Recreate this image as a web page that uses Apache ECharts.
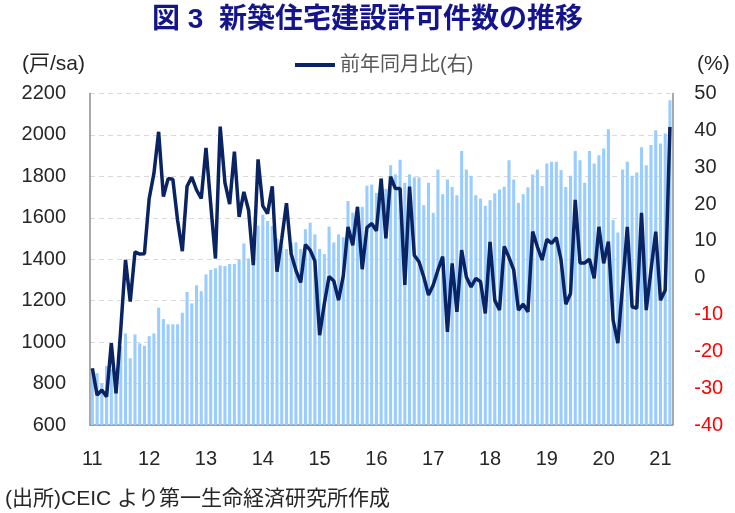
<!DOCTYPE html>
<html lang="ja">
<head>
  <meta charset="UTF-8">
  <script src="https://cdn.jsdelivr.net/npm/echarts@6/dist/echarts.min.js"></script>
  <title>新築住宅建設許可件数の推移</title>
  <style>
    html, body { margin: 0; padding: 0; background: #fff; }
  </style>
</head>
<body>
  <div id="main" style="width: 735px;height:513px;"></div>

  <script>
    // year tick labels (2011 - 2021), monthly data from Jan 2011 to Mar 2021
    var yearLabels = ['11', '12', '13', '14', '15', '16', '17', '18', '19', '20', '21'];
    var monthCount = 123;

    // building permits, units (s.a.), left axis
    var permits = [
      870, 850, 801, 885, 870, 800, 980, 1042, 922, 1037, 994, 982,
      1029, 1042, 1166, 1111, 1086, 1086, 1086, 1142, 1242, 1187, 1275, 1246,
      1327, 1348, 1356, 1370, 1367, 1377, 1377, 1400, 1476, 1404, 1490, 1562,
      1615, 1585, 1560, 1500, 1470, 1450, 1480, 1482, 1450, 1545, 1576, 1520,
      1450, 1425, 1557, 1481, 1520, 1506, 1681, 1625, 1655, 1653, 1755, 1760,
      1720, 1790, 1740, 1854, 1810, 1880, 1769, 1810, 1795, 1795, 1661, 1769,
      1624, 1833, 1714, 1785, 1749, 1709, 1923, 1833, 1803, 1709, 1693, 1658,
      1685, 1718, 1737, 1750, 1878, 1785, 1672, 1714, 1747, 1809, 1833, 1753,
      1862, 1870, 1870, 1830, 1749, 1803, 1923, 1878, 1769, 1923, 1862, 1902,
      1935, 2028, 1589, 1529, 1833, 1870, 1803, 1819, 1940, 1854, 1951, 2023,
      1959, 2007, 2168
    ];

    // year-on-year change, %, right axis
    var yoy = [
      -24.6, -31.9, -30.5, -32.3, -17.8, -31.4, -14.0, 4.8, -6.5, 7.0, 6.4, 6.5,
      21.5, 28.3, 39.6, 22.0, 26.9, 26.7, 15.6, 7.2, 24.8, 27.3, 23.8, 21.5,
      35.2, 19.9, 5.2, 41.0, 25.8, 20.0, 34.2, 16.5, 23.3, 18.3, 3.4, 32.1,
      19.5, 17.4, 24.8, 1.6, 10.5, 20.2, 6.4, 2.0, -1.3, 9.0, 7.5, 4.5,
      -15.6, -7.0, 0.3, -0.9, -6.1, 0.5, 13.8, 8.8, 19.2, 2.3, 13.6, 14.7,
      12.7, 26.9, 10.7, 27.4, 24.2, 24.2, -2.0, 24.7, 6.1, 4.3, 0.2, -4.7,
      -2.0, 2.1, 5.7, -14.7, 3.9, -9.3, 7.5, 0.2, -2.5, -0.2, -1.1, -9.7,
      9.7, -6.1, -8.8, 8.5, 5.5, 2.1, -8.8, -7.2, -9.3, 12.5, 8.4, 4.8,
      10.4, 9.3, 10.9, 4.8, -7.2, -4.3, 21.1, 4.0, 4.0, 5.0, -0.2, 13.8,
      3.9, 9.8, -11.5, -17.8, -2.0, 13.8, -7.9, -8.3, 17.6, -8.8, 2.1, 12.5,
      -6.1, -3.4, 40.9
    ];

    // month categories like '11/1'
    var months = [];
    yearLabels.forEach(function (y) {
      for (var m = 1; m <= 12; m++) {
        if (months.length < monthCount) months.push(y + '/' + m);
      }
    });

    var fontFamily = "'Liberation Sans', 'Noto Sans CJK JP', sans-serif";
    var isJan = function (idx) { return idx % 12 === 0; };

    var chart = echarts.init(document.getElementById('main'));

    var option = {
      animation: false,
      textStyle: { fontFamily: fontFamily },
      title: [
        {
          text: '図 3  新築住宅建設許可件数の推移',
          left: 'center',
          top: 1,
          textStyle: { fontSize: 28, fontWeight: 'bold', color: '#14148c', fontFamily: fontFamily }
        },
        {
          text: '(戸/sa)',
          left: 17,
          top: 49,
          textStyle: { fontSize: 21, fontWeight: 'normal', color: '#262626', fontFamily: fontFamily }
        },
        {
          text: '(%)',
          left: 692,
          top: 49,
          textStyle: { fontSize: 21, fontWeight: 'normal', color: '#262626', fontFamily: fontFamily }
        },
        {
          text: '(出所)CEIC より第一生命経済研究所作成',
          left: 0,
          top: 484,
          textStyle: { fontSize: 21, fontWeight: 'normal', color: '#262626', fontFamily: fontFamily }
        }
      ],
      legend: {
        data: ['前年同月比(右)'],
        left: 290,
        top: 50,
        icon: 'rect',
        itemWidth: 40,
        itemHeight: 4,
        textStyle: { fontSize: 20, color: '#595959' }
      },
      grid: {
        left: 90,
        right: 62.7,
        top: 93.5,
        bottom: 88,
        containLabel: false
      },
      xAxis: {
        type: 'category',
        data: months,
        boundaryGap: true,
        axisLine: { onZero: false, lineStyle: { color: '#8c8c8c', width: 1.5 } },
        axisTick: {
          inside: true,
          length: 6,
          interval: isJan,
          lineStyle: { color: '#404040' }
        },
        axisLabel: {
          interval: isJan,
          margin: 24,
          fontSize: 20,
          color: '#262626',
          formatter: function (v) { return v.split('/')[0]; }
        },
        splitLine: { show: false }
      },
      yAxis: [
        {
          type: 'value',
          min: 600,
          max: 2200,
          interval: 200,
          axisLine: { show: true, lineStyle: { color: '#8c8c8c', width: 1.5 } },
          axisTick: { show: false },
          axisLabel: {
            fontSize: 20,
            margin: 24,
            color: '#262626',
            formatter: function (v) { return String(v); }
          },
          splitLine: { show: true, lineStyle: { color: '#d9d9d9', type: [5, 4] } }
        },
        {
          type: 'value',
          position: 'right',
          min: -40,
          max: 50,
          interval: 10,
          axisLine: { show: true, lineStyle: { color: '#8c8c8c', width: 1.5 } },
          axisTick: { show: false },
          axisLabel: {
            fontSize: 20,
            margin: 22,
            color: function (v) { return Number(v) < 0 ? '#ff0000' : '#262626'; }
          },
          splitLine: { show: false }
        }
      ],
      series: [
        {
          name: '新築住宅建設許可件数',
          type: 'bar',
          yAxisIndex: 0,
          data: permits,
          barCategoryGap: '35%',
          itemStyle: { color: '#99ccff' }
        },
        {
          name: '前年同月比(右)',
          type: 'line',
          yAxisIndex: 1,
          data: yoy,
          showSymbol: false,
          symbol: 'none',
          z: 5,
          lineStyle: { color: '#0a2463', width: 3.5 },
          itemStyle: { color: '#0a2463' }
        }
      ]
    };

    chart.setOption(option);
  </script>
</body>
</html>
